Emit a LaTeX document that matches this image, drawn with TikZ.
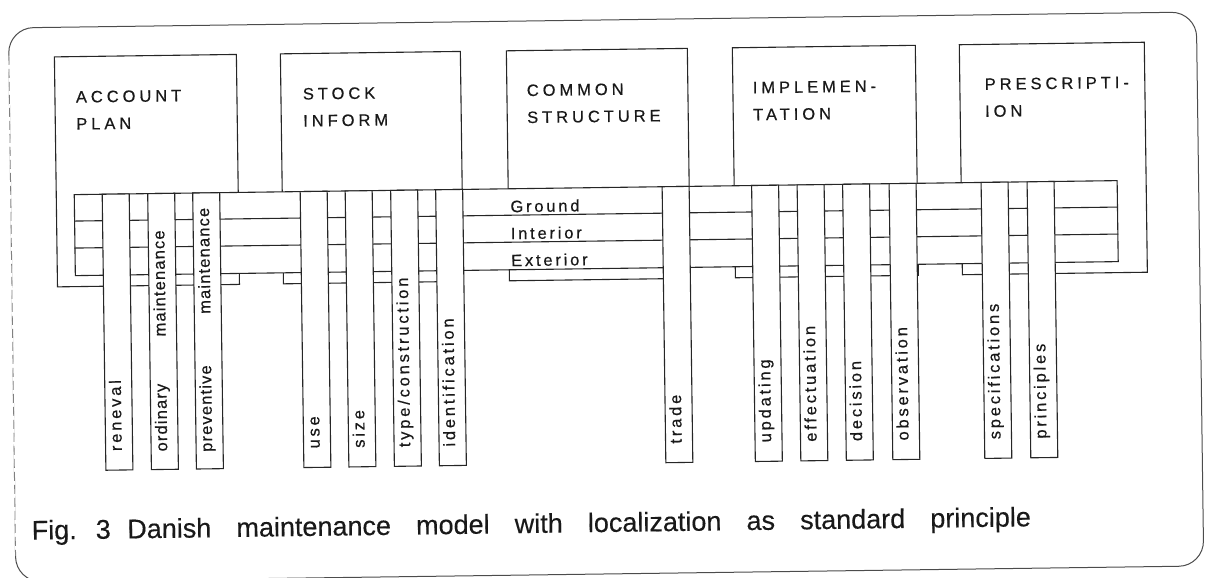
\documentclass[tikz,border=0pt]{standalone}
\usepackage{fontspec}
\setmainfont{Liberation Sans}
\newfontfamily\titlefont[LetterSpace=24, FakeBold=0.5]{Liberation Sans}
\newfontfamily\labelfont[LetterSpace=17, FakeBold=0.5]{Liberation Sans}
\newfontfamily\tightfont[LetterSpace=7, FakeBold=0.5]{Liberation Sans}
\newfontfamily\capnarrow[WordSpace=2.2, FakeBold=0.31]{Liberation Sans}
\newfontfamily\capfont[WordSpace=3.35, FakeBold=0.3]{Liberation Sans}

\begin{document}
\begin{tikzpicture}[x=1pt, y=-1pt, line width=1.1pt,
  ink/.style={draw=black!85},
  boxpanel/.style={ink, fill=white, anchor=north west, inner sep=0pt, minimum height=230pt},
  layerband/.style={ink, fill=white, anchor=north west, inner sep=0pt},
  colbar/.style={ink, fill=white, anchor=north, inner sep=0pt, minimum width=27pt, minimum height=276pt},
  boxtitle/.style={anchor=north west, inner sep=0pt, align=left, text=black!90,
    font=\titlefont\fontsize{16.5}{27}\selectfont},
  layertext/.style={anchor=base west, inner sep=0pt, text=black!90,
    font=\labelfont\fontsize{16.5}{20}\selectfont},
  coltext/.style={rotate=90, anchor=mid west, inner sep=0pt, text=black!90,
    font=\labelfont\fontsize{16.5}{20}\selectfont},
  coltight/.style={coltext, font=\tightfont\fontsize{16.5}{20}\selectfont},
]
\useasboundingbox (0,0) rectangle (1205,578);
\begin{scope}[rotate around={0.77:(602,289)}, transform shape]

% outer frame: solid top, right and bottom, faint broken left side
\draw[draw=black!70, line width=1pt, rounded corners=25pt]
  (12,300) -- (12,20) -- (1200,20) -- (1200,574) -- (12,574) -- (12,300);
\draw[draw=white, line width=1.6pt] (12,48) -- (12,548);
\draw[draw=black!50, line width=0.8pt, dash pattern=on 9pt off 4pt] (12,48) -- (12,548);

% the five main areas
\node[boxpanel, minimum width=182pt] (ap) at (57,49) {};
\node[boxpanel, minimum width=180pt] (si) at (283,49) {};
\node[boxpanel, minimum width=181pt] (cs) at (509,49) {};
\node[boxpanel, minimum width=183pt] (im) at (735,49) {};
\node[boxpanel, minimum width=185pt] (pr) at (962,49) {};

\node[boxtitle] (apt) at ([xshift=21pt, yshift=-34.5pt]ap.north west) {ACCOUNT\\PLAN};
\node[boxtitle] (sit) at ([xshift=22pt, yshift=-34.5pt]si.north west) {STOCK\\INFORM};
\node[boxtitle] (cst) at ([xshift=20pt, yshift=-34pt]cs.north west) {COMMON\\STRUCTURE};
\node[boxtitle] (imt) at ([xshift=20pt, yshift=-34.5pt]im.north west) {IMPLEMEN-\\TATION};
\node[boxtitle] (prt) at ([xshift=25pt, yshift=-34pt]pr.north west) {PRESCRIPTI-\\ION};

% localization layers
\node[layerband, minimum width=1043pt, minimum height=81pt] (band) at (75,187) {};
\draw[ink] ([yshift=-27pt]band.north west) -- ([yshift=-27pt]band.north east);
\draw[ink] ([yshift=-54pt]band.north west) -- ([yshift=-54pt]band.north east);
\node[layertext] (ground) at (511,211) {Ground};
\node[layertext] (interior) at (511,238) {Interior};
\node[layertext] (exterior) at (511,265) {Exterior};

% columns
\node[colbar] (reneval) at (117,187) {};
\node[colbar] (ordinary) at (162.5,187) {};
\node[colbar] (preventive) at (207.5,187) {};
\node[colbar] (use) at (315,187) {};
\node[colbar] (size) at (360,187) {};
\node[colbar] (typecon) at (405.5,187) {};
\node[colbar] (ident) at (450.5,187) {};
\node[colbar] (trade) at (677,187) {};
\node[colbar] (updating) at (766.5,187) {};
\node[colbar] (effect) at (812,187) {};
\node[colbar] (decision) at (857.5,187) {};
\node[colbar] (observ) at (904,187) {};
\node[colbar] (specs) at (996,187) {};
\node[colbar] (princ) at (1042,187) {};

\node[coltext] (renevalt) at ([yshift=19pt]reneval.south) {reneval};
\node[coltight] (ordinaryt) at ([yshift=18pt]ordinary.south) {ordinary};
\node[coltight] (ordinarym) at ([yshift=133pt]ordinary.south) {maintenance};
\node[coltight] (preventivet) at ([yshift=17pt]preventive.south) {preventive};
\node[coltight] (preventivem) at ([yshift=155pt]preventive.south) {maintenance};
\node[coltext] (uset) at ([yshift=19pt]use.south) {u\,s\,e};
\node[coltext] (sizet) at ([yshift=19pt]size.south) {size};
\node[coltext] (typecont) at ([yshift=19pt]typecon.south) {type/construction};
\node[coltext] (identt) at ([yshift=19pt]ident.south) {identification};
\node[coltext] (tradet) at ([yshift=19pt]trade.south) {trade};
\node[coltext] (updatingt) at ([yshift=19pt]updating.south) {updating};
\node[coltext] (effectt) at ([yshift=19pt]effect.south) {effectuation};
\node[coltext] (decisiont) at ([yshift=19pt]decision.south) {decision};
\node[coltext] (observt) at ([yshift=19pt]observ.south) {observation};
\node[coltext] (specst) at ([yshift=19pt]specs.south) {specifications};
\node[coltext] (princt) at ([yshift=19pt]princ.south) {principles};

% caption
\node[anchor=base west, inner sep=0pt, text=black!90,
  font=\fontsize{27}{31}\selectfont] (caption) at (28,532)
  {{\capnarrow Fig. 3 Danish}\capfont{} maintenance model with localization as standard principle};

\end{scope}
\end{tikzpicture}
\end{document}
